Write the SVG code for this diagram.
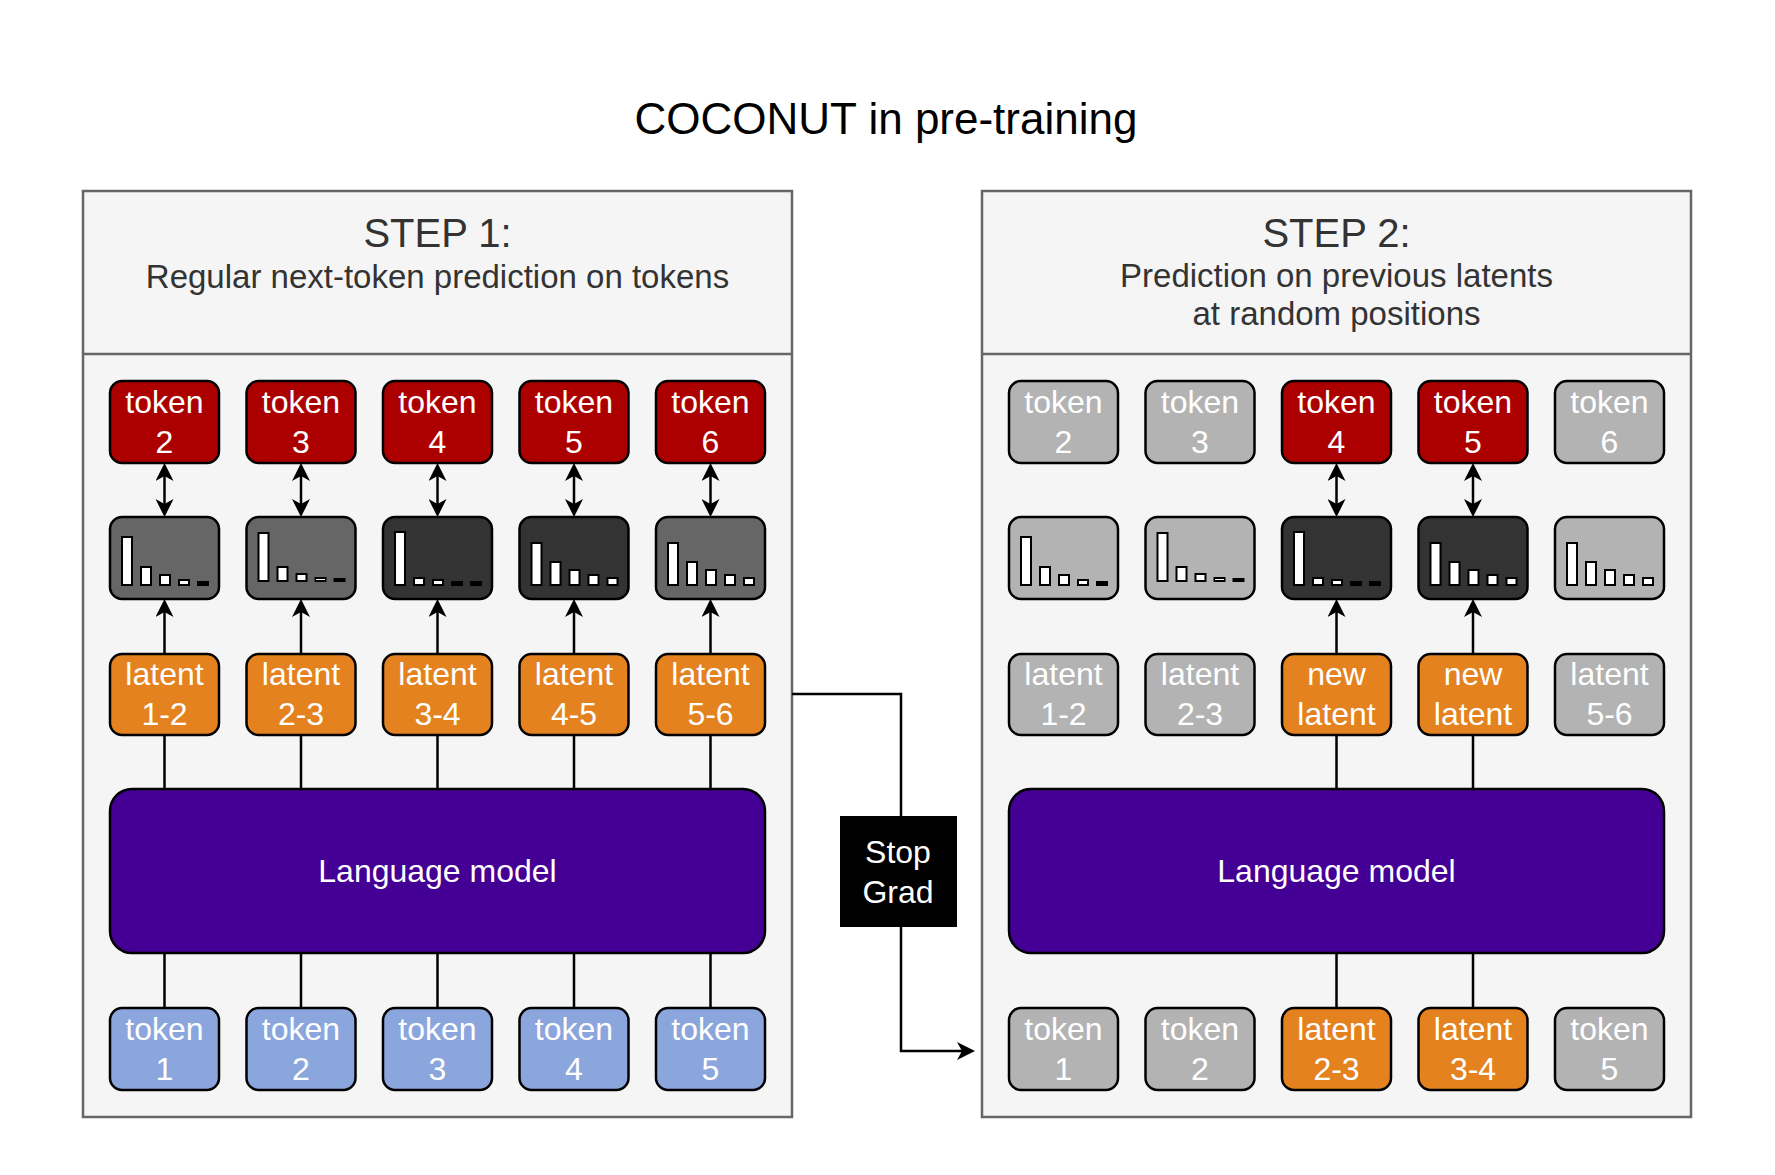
<svg xmlns="http://www.w3.org/2000/svg" xmlns:xlink="http://www.w3.org/1999/xlink" width="1775" height="1175" viewBox="0 0 1775 1175">
<style>
text{font-family:"Liberation Sans",Arial,Helvetica,sans-serif}
.panel{fill:#f5f5f5;stroke:#666;stroke-width:2.5}
.hdr{fill:#333;text-anchor:middle}
.box{stroke:#000;stroke-width:2.5}
.red{fill:#ac0000}
.org{fill:#e3821f}
.blu{fill:#8ba6dd}
.gry{fill:#b3b3b3}
.dk{fill:#333}
.md{fill:#666}
.lm{fill:#440094;stroke:#000;stroke-width:2.5}
.lbl{fill:#fff;font-size:32px;text-anchor:middle}
.bw{fill:#fff;stroke:#000;stroke-width:2}
.bb{fill:#000;stroke:#000;stroke-width:2}
.ln{fill:none;stroke:#000;stroke-width:2.5}
</style>
<defs>
<marker id="ah" markerUnits="userSpaceOnUse" viewBox="0 0 18 18" markerWidth="18" markerHeight="18" refX="8" refY="9" orient="auto-start-reverse">
<path d="M0,0 L18,9 L0,18 L5,9 Z" fill="#000"/>
</marker>
<g id="p1"><rect class="bw" x="12" y="20" width="10" height="48"/><rect class="bw" x="31" y="50" width="10" height="18"/><rect class="bw" x="50" y="58" width="10" height="10"/><rect class="bw" x="69" y="63" width="10" height="5"/><rect class="bb" x="88" y="65" width="10" height="3"/></g>
<g id="p2"><rect class="bw" x="12" y="16" width="10" height="48"/><rect class="bw" x="31" y="50" width="10" height="14"/><rect class="bw" x="50" y="57" width="10" height="7"/><rect class="bw" x="69" y="61" width="10" height="3"/><rect class="bb" x="88" y="62" width="10" height="2"/></g>
<g id="p3"><rect class="bw" x="12" y="15" width="10" height="53"/><rect class="bw" x="31" y="61" width="10" height="7"/><rect class="bw" x="50" y="63" width="10" height="5"/><rect class="bb" x="69" y="65" width="10" height="3"/><rect class="bb" x="88" y="65" width="10" height="3"/></g>
<g id="p4"><rect class="bw" x="12" y="26" width="10" height="42"/><rect class="bw" x="31" y="45" width="10" height="23"/><rect class="bw" x="50" y="53" width="10" height="15"/><rect class="bw" x="69" y="58" width="10" height="10"/><rect class="bw" x="88" y="61" width="10" height="7"/></g>
</defs>
<rect width="1775" height="1175" fill="#fff"/>
<text x="886" y="134" font-size="44" text-anchor="middle" fill="#000">COCONUT in pre-training</text>

<g id="panel1">
<rect class="panel" x="83" y="191" width="709" height="926"/>
<line x1="83" y1="354" x2="792" y2="354" stroke="#666" stroke-width="2.5"/>
<text class="hdr" x="437.5" y="247" font-size="40">STEP 1:</text>
<text class="hdr" x="437.5" y="288" font-size="33">Regular next-token prediction on tokens</text>
</g>
<g id="panel2">
<rect class="panel" x="982" y="191" width="709" height="926"/>
<line x1="982" y1="354" x2="1691" y2="354" stroke="#666" stroke-width="2.5"/>
<text class="hdr" x="1336.5" y="247" font-size="40">STEP 2:</text>
<text class="hdr" x="1336.5" y="287" font-size="33">Prediction on previous latents</text>
<text class="hdr" x="1336.5" y="325" font-size="33">at random positions</text>
</g>

<g id="connectors">
<!-- step 1 -->
<path class="ln" d="M164.5,473 V507" marker-start="url(#ah)" marker-end="url(#ah)"/>
<path class="ln" d="M301,473 V507" marker-start="url(#ah)" marker-end="url(#ah)"/>
<path class="ln" d="M437.5,473 V507" marker-start="url(#ah)" marker-end="url(#ah)"/>
<path class="ln" d="M574,473 V507" marker-start="url(#ah)" marker-end="url(#ah)"/>
<path class="ln" d="M710.5,473 V507" marker-start="url(#ah)" marker-end="url(#ah)"/>
<path class="ln" d="M164.5,654 V609" marker-end="url(#ah)"/>
<path class="ln" d="M301,654 V609" marker-end="url(#ah)"/>
<path class="ln" d="M437.5,654 V609" marker-end="url(#ah)"/>
<path class="ln" d="M574,654 V609" marker-end="url(#ah)"/>
<path class="ln" d="M710.5,654 V609" marker-end="url(#ah)"/>
<path class="ln" d="M164.5,735 V789 M301,735 V789 M437.5,735 V789 M574,735 V789 M710.5,735 V789"/>
<path class="ln" d="M164.5,953 V1008 M301,953 V1008 M437.5,953 V1008 M574,953 V1008 M710.5,953 V1008"/>
<!-- step 2 -->
<path class="ln" d="M1336.5,473 V507" marker-start="url(#ah)" marker-end="url(#ah)"/>
<path class="ln" d="M1473,473 V507" marker-start="url(#ah)" marker-end="url(#ah)"/>
<path class="ln" d="M1336.5,654 V609" marker-end="url(#ah)"/>
<path class="ln" d="M1473,654 V609" marker-end="url(#ah)"/>
<path class="ln" d="M1336.5,735 V789 M1473,735 V789"/>
<path class="ln" d="M1336.5,953 V1008 M1473,953 V1008"/>
<!-- stop grad -->
<path class="ln" d="M792,694 H901 V1051 H965" marker-end="url(#ah)"/>
</g>

<g id="stopgrad">
<rect x="840" y="816" width="117" height="111" fill="#000"/>
<text class="lbl" x="898" y="863">Stop</text>
<text class="lbl" x="898" y="903">Grad</text>
</g>

<!-- STEP 1 nodes -->
<g id="s1-out-2"><rect class="box red" x="110" y="381" width="109" height="82" rx="12"/><text class="lbl" x="164.5" y="413">token</text><text class="lbl" x="164.5" y="453">2</text></g>
<g id="s1-out-3"><rect class="box red" x="246.5" y="381" width="109" height="82" rx="12"/><text class="lbl" x="301" y="413">token</text><text class="lbl" x="301" y="453">3</text></g>
<g id="s1-out-4"><rect class="box red" x="383" y="381" width="109" height="82" rx="12"/><text class="lbl" x="437.5" y="413">token</text><text class="lbl" x="437.5" y="453">4</text></g>
<g id="s1-out-5"><rect class="box red" x="519.5" y="381" width="109" height="82" rx="12"/><text class="lbl" x="574" y="413">token</text><text class="lbl" x="574" y="453">5</text></g>
<g id="s1-out-6"><rect class="box red" x="656" y="381" width="109" height="82" rx="12"/><text class="lbl" x="710.5" y="413">token</text><text class="lbl" x="710.5" y="453">6</text></g>

<g id="s1-hist-1"><rect class="box md" x="110" y="517" width="109" height="82" rx="12"/><use xlink:href="#p1" href="#p1" x="110" y="517"/></g>
<g id="s1-hist-2"><rect class="box md" x="246.5" y="517" width="109" height="82" rx="12"/><use xlink:href="#p2" href="#p2" x="246.5" y="517"/></g>
<g id="s1-hist-3"><rect class="box dk" x="383" y="517" width="109" height="82" rx="12"/><use xlink:href="#p3" href="#p3" x="383" y="517"/></g>
<g id="s1-hist-4"><rect class="box dk" x="519.5" y="517" width="109" height="82" rx="12"/><use xlink:href="#p4" href="#p4" x="519.5" y="517"/></g>
<g id="s1-hist-5"><rect class="box md" x="656" y="517" width="109" height="82" rx="12"/><use xlink:href="#p4" href="#p4" x="656" y="517"/></g>

<g id="s1-lat-1"><rect class="box org" x="110" y="654" width="109" height="81" rx="12"/><text class="lbl" x="164.5" y="685">latent</text><text class="lbl" x="164.5" y="725">1-2</text></g>
<g id="s1-lat-2"><rect class="box org" x="246.5" y="654" width="109" height="81" rx="12"/><text class="lbl" x="301" y="685">latent</text><text class="lbl" x="301" y="725">2-3</text></g>
<g id="s1-lat-3"><rect class="box org" x="383" y="654" width="109" height="81" rx="12"/><text class="lbl" x="437.5" y="685">latent</text><text class="lbl" x="437.5" y="725">3-4</text></g>
<g id="s1-lat-4"><rect class="box org" x="519.5" y="654" width="109" height="81" rx="12"/><text class="lbl" x="574" y="685">latent</text><text class="lbl" x="574" y="725">4-5</text></g>
<g id="s1-lat-5"><rect class="box org" x="656" y="654" width="109" height="81" rx="12"/><text class="lbl" x="710.5" y="685">latent</text><text class="lbl" x="710.5" y="725">5-6</text></g>

<g id="s1-lm"><rect class="lm" x="110" y="789" width="655" height="164" rx="22"/><text class="lbl" x="437.5" y="882">Language model</text></g>

<g id="s1-in-1"><rect class="box blu" x="110" y="1008" width="109" height="82" rx="12"/><text class="lbl" x="164.5" y="1040">token</text><text class="lbl" x="164.5" y="1080">1</text></g>
<g id="s1-in-2"><rect class="box blu" x="246.5" y="1008" width="109" height="82" rx="12"/><text class="lbl" x="301" y="1040">token</text><text class="lbl" x="301" y="1080">2</text></g>
<g id="s1-in-3"><rect class="box blu" x="383" y="1008" width="109" height="82" rx="12"/><text class="lbl" x="437.5" y="1040">token</text><text class="lbl" x="437.5" y="1080">3</text></g>
<g id="s1-in-4"><rect class="box blu" x="519.5" y="1008" width="109" height="82" rx="12"/><text class="lbl" x="574" y="1040">token</text><text class="lbl" x="574" y="1080">4</text></g>
<g id="s1-in-5"><rect class="box blu" x="656" y="1008" width="109" height="82" rx="12"/><text class="lbl" x="710.5" y="1040">token</text><text class="lbl" x="710.5" y="1080">5</text></g>

<!-- STEP 2 nodes -->
<g id="s2-out-2"><rect class="box gry" x="1009" y="381" width="109" height="82" rx="12"/><text class="lbl" x="1063.5" y="413">token</text><text class="lbl" x="1063.5" y="453">2</text></g>
<g id="s2-out-3"><rect class="box gry" x="1145.5" y="381" width="109" height="82" rx="12"/><text class="lbl" x="1200" y="413">token</text><text class="lbl" x="1200" y="453">3</text></g>
<g id="s2-out-4"><rect class="box red" x="1282" y="381" width="109" height="82" rx="12"/><text class="lbl" x="1336.5" y="413">token</text><text class="lbl" x="1336.5" y="453">4</text></g>
<g id="s2-out-5"><rect class="box red" x="1418.5" y="381" width="109" height="82" rx="12"/><text class="lbl" x="1473" y="413">token</text><text class="lbl" x="1473" y="453">5</text></g>
<g id="s2-out-6"><rect class="box gry" x="1555" y="381" width="109" height="82" rx="12"/><text class="lbl" x="1609.5" y="413">token</text><text class="lbl" x="1609.5" y="453">6</text></g>

<g id="s2-hist-1"><rect class="box gry" x="1009" y="517" width="109" height="82" rx="12"/><use xlink:href="#p1" href="#p1" x="1009" y="517"/></g>
<g id="s2-hist-2"><rect class="box gry" x="1145.5" y="517" width="109" height="82" rx="12"/><use xlink:href="#p2" href="#p2" x="1145.5" y="517"/></g>
<g id="s2-hist-3"><rect class="box dk" x="1282" y="517" width="109" height="82" rx="12"/><use xlink:href="#p3" href="#p3" x="1282" y="517"/></g>
<g id="s2-hist-4"><rect class="box dk" x="1418.5" y="517" width="109" height="82" rx="12"/><use xlink:href="#p4" href="#p4" x="1418.5" y="517"/></g>
<g id="s2-hist-5"><rect class="box gry" x="1555" y="517" width="109" height="82" rx="12"/><use xlink:href="#p4" href="#p4" x="1555" y="517"/></g>

<g id="s2-lat-1"><rect class="box gry" x="1009" y="654" width="109" height="81" rx="12"/><text class="lbl" x="1063.5" y="685">latent</text><text class="lbl" x="1063.5" y="725">1-2</text></g>
<g id="s2-lat-2"><rect class="box gry" x="1145.5" y="654" width="109" height="81" rx="12"/><text class="lbl" x="1200" y="685">latent</text><text class="lbl" x="1200" y="725">2-3</text></g>
<g id="s2-lat-3"><rect class="box org" x="1282" y="654" width="109" height="81" rx="12"/><text class="lbl" x="1336.5" y="685">new</text><text class="lbl" x="1336.5" y="725">latent</text></g>
<g id="s2-lat-4"><rect class="box org" x="1418.5" y="654" width="109" height="81" rx="12"/><text class="lbl" x="1473" y="685">new</text><text class="lbl" x="1473" y="725">latent</text></g>
<g id="s2-lat-5"><rect class="box gry" x="1555" y="654" width="109" height="81" rx="12"/><text class="lbl" x="1609.5" y="685">latent</text><text class="lbl" x="1609.5" y="725">5-6</text></g>

<g id="s2-lm"><rect class="lm" x="1009" y="789" width="655" height="164" rx="22"/><text class="lbl" x="1336.5" y="882">Language model</text></g>

<g id="s2-in-1"><rect class="box gry" x="1009" y="1008" width="109" height="82" rx="12"/><text class="lbl" x="1063.5" y="1040">token</text><text class="lbl" x="1063.5" y="1080">1</text></g>
<g id="s2-in-2"><rect class="box gry" x="1145.5" y="1008" width="109" height="82" rx="12"/><text class="lbl" x="1200" y="1040">token</text><text class="lbl" x="1200" y="1080">2</text></g>
<g id="s2-in-3"><rect class="box org" x="1282" y="1008" width="109" height="82" rx="12"/><text class="lbl" x="1336.5" y="1040">latent</text><text class="lbl" x="1336.5" y="1080">2-3</text></g>
<g id="s2-in-4"><rect class="box org" x="1418.5" y="1008" width="109" height="82" rx="12"/><text class="lbl" x="1473" y="1040">latent</text><text class="lbl" x="1473" y="1080">3-4</text></g>
<g id="s2-in-5"><rect class="box gry" x="1555" y="1008" width="109" height="82" rx="12"/><text class="lbl" x="1609.5" y="1040">token</text><text class="lbl" x="1609.5" y="1080">5</text></g>
</svg>
